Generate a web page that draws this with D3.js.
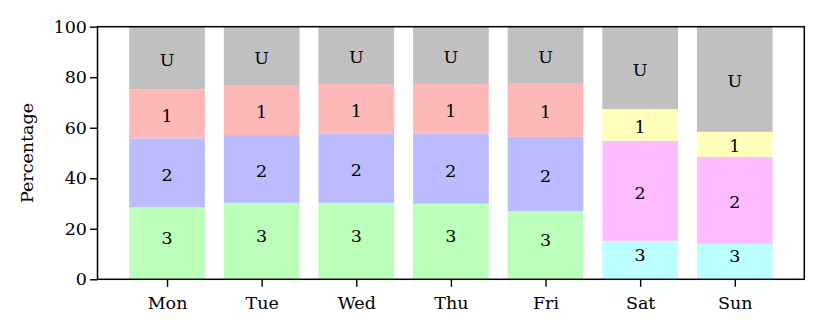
<!DOCTYPE html>
<html>
<head>
<meta charset="utf-8">
<script src="https://cdn.jsdelivr.net/npm/d3@7"></script>
<style>
  body { margin: 0; background: #fff; }
  svg { display: block; font-family: "DejaVu Serif", serif; }
</style>
</head>
<body>
<div id="chart"></div>
<script>
// data (percent per segment, bottom to top)
const days = ['Mon', 'Tue', 'Wed', 'Thu', 'Fri', 'Sat', 'Sun'];
const seg3 = [28.6, 30.3, 30.3, 29.9, 27.0, 15.2, 14.1];
const seg2 = [27.2, 26.8, 27.3, 27.7, 29.4, 39.6, 34.3];
const seg1 = [19.4, 19.8, 19.7, 19.7, 21.0, 12.6, 10.0];
const segLabels = ['3', '2', '1', 'U'];
const yTicks = [0, 20, 40, 60, 80, 100];

const weekdayColors = ['#bbffbb', '#bbbbff', '#ffb8b8', '#c0c0c0'];
const weekendColors = ['#bbffff', '#ffbbff', '#ffffbb', '#c0c0c0'];

const width = 830, height = 332;
const margin = { top: 26.7, right: 25.7, bottom: 52.7, left: 97.5 };
const fontSize = '17.5px';

const x = d3.scaleLinear([-0.735, 6.735], [margin.left, width - margin.right]);
const y = d3.scaleLinear([0, 100], [height - margin.bottom, margin.top]);
const barW = 0.8;
// bottom label sits a bit higher than the segment middle
const labelLift = [2.9, 0, 0, 0];

const svg = d3.select('#chart').append('svg')
  .attr('width', width).attr('height', height);

// build stacked rows
const rows = [];
days.forEach((day, i) => {
  const vals = [seg3[i], seg2[i], seg1[i]];
  vals.push(100 - d3.sum(vals));
  const colors = i >= 5 ? weekendColors : weekdayColors;
  let base = 0;
  vals.forEach((v, j) => {
    rows.push({ i, j, y0: base, y1: base + v, label: segLabels[j], color: colors[j] });
    base += v;
  });
});

svg.append('g').selectAll('rect')
  .data(rows)
  .join('rect')
  .attr('x', d => x(d.i - barW / 2))
  .attr('width', d => x(barW) - x(0))
  .attr('y', d => y(d.y1))
  .attr('height', d => y(d.y0) - y(d.y1))
  .attr('fill', d => d.color);

svg.append('g').selectAll('text')
  .data(rows)
  .join('text')
  .attr('x', d => x(d.i))
  .attr('y', d => y((d.y0 + d.y1) / 2 + labelLift[d.j]) + 1.5)
  .attr('dy', '0.36em')
  .attr('text-anchor', 'middle')
  .style('font-size', fontSize)
  .text(d => d.label);

// axes
const yAxis = d3.axisLeft(y).tickValues(yTicks).tickSize(7.5).tickSizeOuter(0).tickPadding(3);
svg.append('g')
  .attr('transform', `translate(${margin.left},0)`)
  .call(yAxis)
  .call(g => g.select('.domain').remove())
  .call(g => g.selectAll('line').attr('stroke', '#000').attr('stroke-width', 1.4))
  .call(g => g.selectAll('text').style('font-family', '"DejaVu Serif", serif').style('font-size', fontSize).attr('fill', '#000'));

const xAxis = d3.axisBottom(x).tickValues(d3.range(days.length)).tickFormat(i => days[i])
  .tickSize(7.5).tickSizeOuter(0).tickPadding(9.5);
svg.append('g')
  .attr('transform', `translate(0,${height - margin.bottom})`)
  .call(xAxis)
  .call(g => g.select('.domain').remove())
  .call(g => g.selectAll('line').attr('stroke', '#000').attr('stroke-width', 1.4))
  .call(g => g.selectAll('text').style('font-family', '"DejaVu Serif", serif').style('font-size', fontSize).attr('fill', '#000'));

// frame
svg.append('rect')
  .attr('x', margin.left).attr('y', margin.top)
  .attr('width', width - margin.left - margin.right)
  .attr('height', height - margin.top - margin.bottom)
  .attr('fill', 'none').attr('stroke', '#000').attr('stroke-width', 1.5);

svg.append('text')
  .attr('transform', `translate(33,${(margin.top + height - margin.bottom) / 2}) rotate(-90)`)
  .attr('text-anchor', 'middle')
  .style('font-size', fontSize)
  .text('Percentage');
</script>
</body>
</html>
